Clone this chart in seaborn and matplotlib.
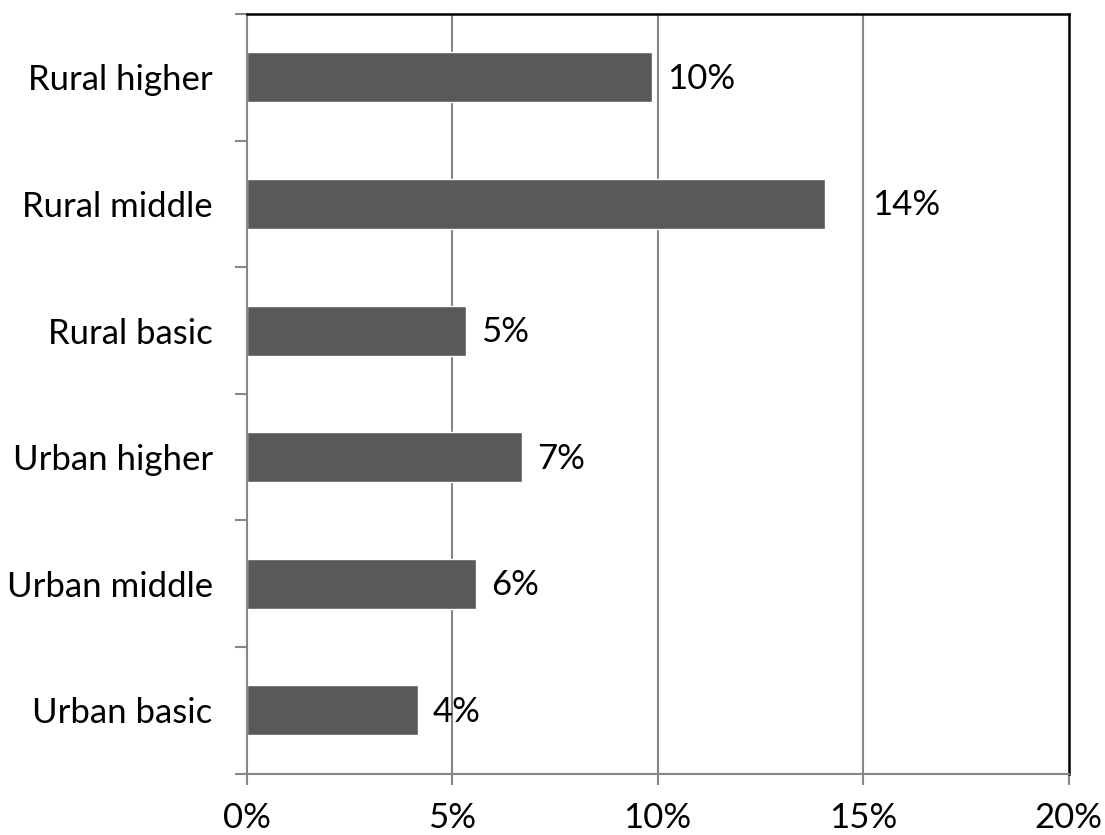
import matplotlib
matplotlib.use("Agg")
import matplotlib.pyplot as plt
import seaborn as sns
from matplotlib.ticker import PercentFormatter, FixedLocator

# Share of each group, top to bottom
groups = ["Rural higher", "Rural middle", "Rural basic",
          "Urban higher", "Urban middle", "Urban basic"]
shares = [0.0987, 0.1408, 0.0534, 0.0671, 0.0559, 0.0417]
x_ticks = [0.0, 0.05, 0.10, 0.15, 0.20]

sns.set_theme(style="white")
plt.rcParams["font.family"] = ["Lato", "DejaVu Sans"]

GRID = "#868686"
BAR = "#595959"
FS = 25

fig = plt.figure(figsize=(11.05, 8.35), dpi=100)
ax = fig.add_axes([0.2233, 0.0734, 0.967 - 0.2233, 0.9832 - 0.0734])

sns.barplot(x=shares, y=groups, orient="h", color=BAR, saturation=1,
            width=0.395, ax=ax, zorder=3)

ax.set_xlim(0, 0.20)
ax.set_ylim(len(groups) - 0.5, -0.5)
ax.xaxis.set_major_locator(FixedLocator(x_ticks))
ax.xaxis.set_major_formatter(PercentFormatter(1, decimals=0))

# vertical gridlines
for t in x_ticks[1:-1]:
    ax.axvline(t, color=GRID, lw=1.5, zorder=1)

# spines: gray axes at left/bottom, black frame at top/right
for side in ("left", "bottom"):
    ax.spines[side].set_color(GRID)
    ax.spines[side].set_linewidth(1.5)
for side in ("top", "right"):
    ax.spines[side].set_color("black")
    ax.spines[side].set_linewidth(1.8)
for sp in ax.spines.values():
    sp.set_zorder(4)

# y tick marks at category boundaries, labels at centres
ax.yaxis.set_minor_locator(FixedLocator([i - 0.5 for i in range(len(groups) + 1)]))
ax.tick_params(axis="y", which="major", length=0, pad=24.5, labelsize=FS, labelcolor="black")
ax.tick_params(axis="y", which="minor", left=True, length=8.5, width=1.5, color=GRID, direction="out")
ax.tick_params(axis="x", which="major", bottom=True, length=8, width=1.5, color=GRID,
               direction="out", pad=12.5, labelsize=FS, labelcolor="black")
ax.set_xlabel("")
ax.set_ylabel("")

# value labels beside each bar
label_shift = {1: 23}
for i, v in enumerate(shares):
    ax.annotate(f"{v:.0%}", xy=(v, i), xytext=(10.5 + label_shift.get(i, 0), -1),
                textcoords="offset points", va="center", ha="left",
                fontsize=FS, color="black", zorder=5)

fig.savefig("out.png", dpi=100, facecolor="white")
